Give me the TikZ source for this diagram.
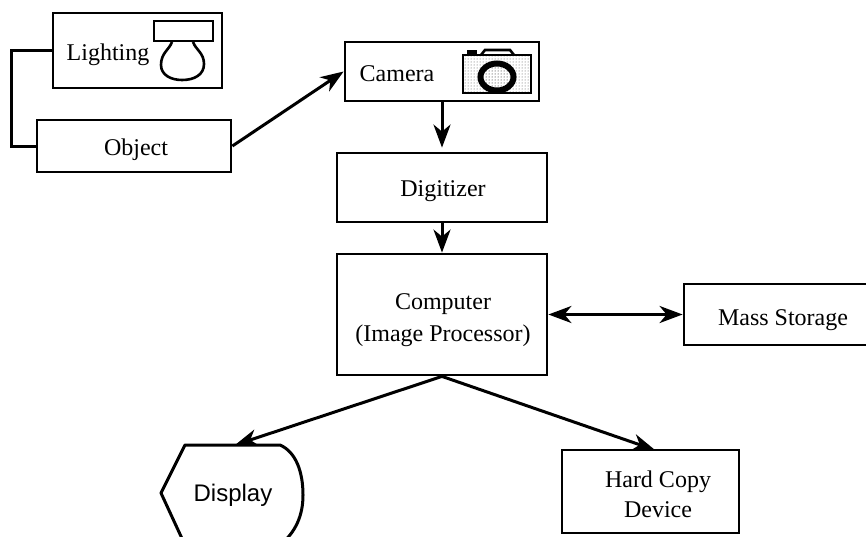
\documentclass[tikz,border=0pt]{standalone}
\usepackage{fontspec}
\setmainfont{Liberation Serif}
\newfontfamily\dispfont{Liberation Sans}
\usetikzlibrary{arrows.meta,patterns}
\tikzset{
  x=1pt,y=-1pt,
  boxnode/.style={draw=black,line width=2.8pt,rectangle,inner sep=0pt,align=center,font=\fontsize{24}{32}\selectfont},
  labelnode/.style={inner sep=0pt,font=\fontsize{24}{32}\selectfont,anchor=base},
  flow/.style={line width=3pt,-{Stealth[length=23pt,width=17pt,inset=7pt]}},
  flowboth/.style={line width=3pt,{Stealth[length=23pt,width=17pt,inset=7pt]}-{Stealth[length=23pt,width=17pt,inset=7pt]}},
  link/.style={line width=3pt},
  iconline/.style={line width=2.6pt,draw=black},
}
\begin{document}
\begin{tikzpicture}
\useasboundingbox (0,0) rectangle (866,536);
\clip (0,0) rectangle (866,536);
% boxes
\node[boxnode,minimum width=169pt,minimum height=75pt] (lighting) at (137.5,50.5) {};
\node[boxnode,minimum width=194pt,minimum height=52pt] (object) at (134,146) {};
\node[boxnode,minimum width=194pt,minimum height=59pt] (camera) at (442,71.5) {};
\node[boxnode,minimum width=210pt,minimum height=69pt] (digitizer) at (442,187.5) {};
\node[boxnode,minimum width=210pt,minimum height=121pt] (computer) at (442,314.5) {};
\node[boxnode,minimum width=198pt,minimum height=61pt] (mass) at (783,314.5) {};
\node[boxnode,minimum width=177pt,minimum height=83pt] (hard) at (650.5,491.5) {};
% labels
\node[labelnode] (tlighting) at (108,60) {Lighting};
\node[labelnode] (tobject) at (136,155) {Object};
\node[labelnode] (tcamera) at (397,81) {Camera};
\node[labelnode] (tdigitizer) at (443,196) {Digitizer};
\node[labelnode] (tcomputer) at (443,309) {Computer};
\node[labelnode] (timage) at (443,341) {(Image Processor)};
\node[labelnode] (tmass) at (783,325) {Mass Storage};
\node[labelnode] (thard) at (658,487) {Hard Copy};
\node[labelnode] (tdevice) at (658,517) {Device};
% display
\draw[line width=3pt,line join=round] (185,445) -- (280,445)
  .. controls (296,452) and (303,472) .. (303,495)
  .. controls (303,515) and (296,532) .. (280,545)
  -- (185,545) -- (161,493) -- cycle;
\node[labelnode,font=\dispfont\fontsize{24}{30}\selectfont] (tdisplay) at (233,501) {Display};
% bulb
\draw[iconline] (154,21) rectangle (213,41);
\draw[iconline] (172,42) .. controls (169,50) and (161,53) .. (161,65)
  .. controls (161,75) and (171,80) .. (182,80)
  .. controls (194,80) and (204,75) .. (204,64)
  .. controls (204,53) and (196,50) .. (193,42);
% camera icon
\fill[black] (467,50) rectangle (477,56);
\draw[iconline] (481,55) -- (485,50) -- (510,50) -- (514,55);
\draw[iconline,pattern=dots,pattern color=black!70] (463,55) rectangle (531,93);
\draw[line width=6pt,draw=black,fill=white] (497,77) ellipse (16.5 and 13.5);
\fill[pattern=dots,pattern color=black] (497,77) ellipse (13.5 and 10.5);
% connectors
\coordinate (displayin) at (235,445);
\coordinate (hardin) at (655,450);
\draw[link] (lighting.west) -- ++(-40,0) |- (object.west);
\draw[flow] (object.east) -- (camera.west);
\draw[flow,shorten >=4pt] (camera.south) -- (digitizer.north);
\draw[flow] (digitizer.south) -- (computer.north);
\draw[flowboth] (computer.east) -- (mass.west);
\draw[flow] (computer.south) -- (displayin);
\draw[flow] (computer.south) -- (hardin);
\end{tikzpicture}
\end{document}
